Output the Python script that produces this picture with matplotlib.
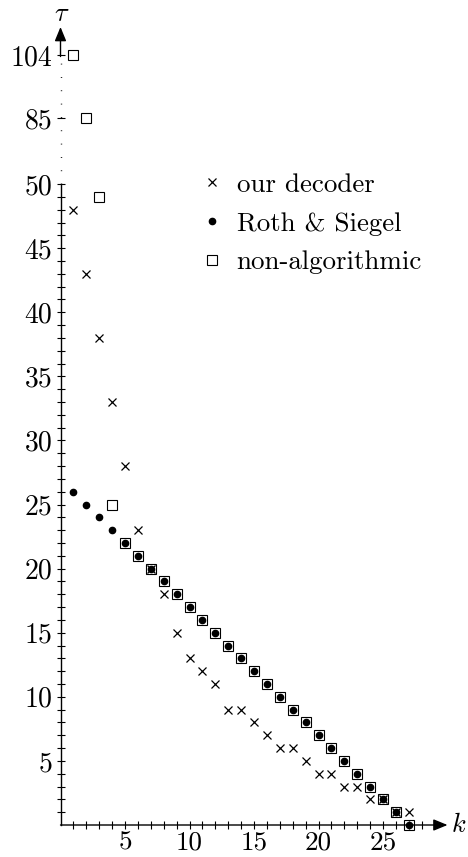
import matplotlib
matplotlib.use("Agg")
import matplotlib.pyplot as plt
import numpy as np

plt.rcParams['font.family'] = 'serif'
plt.rcParams['font.serif'] = ['cmr10']
plt.rcParams['mathtext.fontset'] = 'cm'
plt.rcParams['axes.formatter.use_mathtext'] = True

k = np.arange(1, 28)
our_decoder = [48, 43, 38, 33, 28, 23, 20, 18, 15, 13, 12, 11, 9, 9, 8, 7, 6, 6, 5, 4, 4, 3, 3, 2, 2, 1, 1]
roth_siegel = [26, 25, 24, 23, 22, 21, 20, 19, 18, 17, 16, 15, 14, 13, 12, 11, 10, 9, 8, 7, 6, 5, 4, 3, 2, 1, 0]
non_algorithmic = [104, 85, 49, 25, 22, 21, 20, 19, 18, 17, 16, 15, 14, 13, 12, 11, 10, 9, 8, 7, 6, 5, 4, 3, 2, 1, 0]

y_major = [5, 10, 15, 20, 25, 30, 35, 40, 45, 50, 85, 104]
y_minor = [i for i in range(1, 50) if i % 5 != 0]
x_major = [5, 10, 15, 20, 25]
x_minor = [i for i in range(1, 29) if i % 5 != 0]

# broken tau axis: 0..50 linear, then 85 and 104 squeezed in on top
tau_pts = [-1000, 0, 50, 85, 104, 1104]
pos_pts = [-1000, 0, 50, 55.15, 60.06, 1060.06]

def fwd(t):
    return np.interp(np.asarray(t, float), tau_pts, pos_pts)

def inv(u):
    return np.interp(np.asarray(u, float), pos_pts, tau_pts)

fig = plt.figure(figsize=(4.68, 8.57), dpi=100)
ax = fig.add_axes([60.5 / 468, 32 / 857, 387 / 468, 798 / 857])
ax.set_yscale('function', functions=(fwd, inv))
ax.set_xlim(0, 30)
ax.set_ylim(0, 106.2)

for s in ax.spines.values():
    s.set_visible(False)

ax.plot(k, non_algorithmic, 's', ms=7.5, mfc='none', mec='black', mew=0.8,
        linestyle='none', clip_on=False, label='non-algorithmic', zorder=3)
ax.plot(k, roth_siegel, 'o', ms=4.5, color='black', linestyle='none',
        clip_on=False, label='Roth & Siegel', zorder=4)
ax.plot(k, our_decoder, 'x', ms=6, mew=0.9, color='black', linestyle='none',
        clip_on=False, label='our decoder', zorder=5)

# axis lines
ax.plot([0, 0], [0, 50.3], color='black', lw=1, clip_on=False)
ax.plot([0, 0], [50.3, 103.5], color='black', lw=1, linestyle=(0, (0.6, 9)), clip_on=False)
ax.annotate('', xy=(0, 106.2), xytext=(0, 103.6),
            arrowprops=dict(arrowstyle='-|>,head_length=0.85,head_width=0.35',
                            color='black', lw=1, shrinkA=0, shrinkB=0,
                            mutation_scale=10), annotation_clip=False)
ax.annotate('', xy=(30, 0), xytext=(0, 0),
            arrowprops=dict(arrowstyle='-|>,head_length=0.85,head_width=0.35',
                            color='black', lw=1, shrinkA=0, shrinkB=0,
                            mutation_scale=10), annotation_clip=False)
ax.text(30.3, 0, r'$k$', fontsize=19, ha='left', va='center')
fig.text(62 / 468, 1 - 21 / 857, r'$\tau$', fontsize=19, ha='center', va='baseline')

ax.set_xticks(x_major, [str(v) for v in x_major])
ax.set_xticks(x_minor, minor=True)
ax.set_yticks(y_major, [str(v) for v in y_major])
ax.set_yticks(y_minor, minor=True)
ax.tick_params(which='both', direction='inout', length=6, width=0.8, labelsize=20)
ax.tick_params(axis='y', which='both', pad=3)
ax.tick_params(axis='x', which='both', pad=1, labelsize=19.5)

h, l = ax.get_legend_handles_labels()
order = [2, 1, 0]
ax.legend([h[i] for i in order], [l[i] for i in order], loc='upper left',
          bbox_to_anchor=(199 / 468, 1 - 173 / 857), bbox_transform=fig.transFigure,
          frameon=False, fontsize=19.4, handlelength=1.0, handletextpad=0.4,
          borderpad=0, borderaxespad=0, labelspacing=0.55, numpoints=1)

fig.savefig('out.png', dpi=100)
